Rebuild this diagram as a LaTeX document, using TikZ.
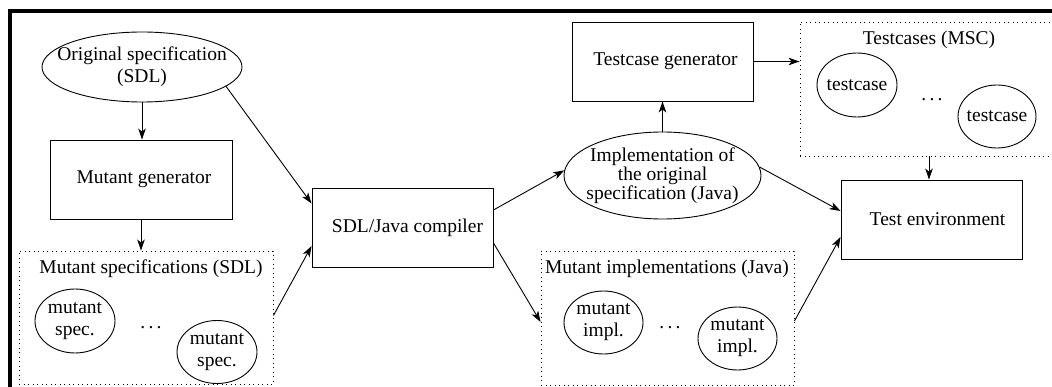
\documentclass[tikz,border=0pt]{standalone}
\usepackage{fontspec}
\setmainfont{Liberation Serif}
\usetikzlibrary{shapes.geometric,arrows.meta}
\tikzset{
  base/.style={font=\fontsize{19.5}{22}\selectfont},
  box/.style={base,draw,rectangle,line width=0.9pt,inner sep=0pt},
  ell/.style={base,draw,ellipse,line width=0.9pt,inner sep=0pt},
  lbl/.style={base,align=center,inner sep=0pt},
  group/.style={draw,rectangle,line width=0.9pt,dash pattern=on 0.9pt off 3.6pt,inner sep=0pt},
  arr/.style={-{Stealth[length=11pt,width=7.5pt,inset=3pt]},line width=0.9pt},
  frameline/.style={line width=3.2pt}
}
\begin{document}
\begin{tikzpicture}[x=1pt,y=-1pt]
\useasboundingbox (0,0) rectangle (1052,387);
% frame
\coordinate (fl) at (10,400);
\coordinate (fc) at (10,11);
\coordinate (fr) at (1070,11);
\draw[frameline] (fl) -- (fc) -- (fr);

% left column
\node[ell,minimum width=200pt,minimum height=70pt,
  label={[lbl]center:Original specification\\(SDL)}] (orig) at (142,67) {};
\node[box,minimum width=182pt,minimum height=79pt] (mgen) at (141,179.5) {\hspace*{6pt}Mutant generator};
\node[group,minimum width=254pt,minimum height=133pt] (mspecs) at (146,317.5) {};
\node[lbl] (mspecslabel) at (151,269) {Mutant specifications (SDL)};
\node[ell,minimum width=80pt,minimum height=64pt,
  label={[lbl]center:mutant\\spec.}] (ms1) at (75,321) {};
\node[ell,minimum width=80pt,minimum height=63pt,
  label={[lbl]center:mutant\\spec.}] (ms2) at (217,352) {};
\node[lbl] (msdots) at (151,328) {.\,.\,.};

% compiler
\node[box,minimum width=181pt,minimum height=79pt] (comp) at (402.5,227.5) {\hspace*{10pt}SDL/Java compiler};

% middle column
\node[box,minimum width=181pt,minimum height=79pt] (tgen) at (662.5,61.5) {\hspace*{6pt}Testcase generator};
\node[ell,minimum width=197pt,minimum height=87pt,
  label={[lbl,font=\fontsize{19.5}{13.5}\selectfont]center:Implementation of\\the original\\specification (Java)}] (impl) at (662.5,175.5) {};
\node[group,minimum width=253pt,minimum height=134pt] (mimpls) at (667.5,318) {};
\node[lbl] (mimplslabel) at (667,269) {Mutant implementations (Java)};
\node[ell,minimum width=79pt,minimum height=63pt,
  label={[lbl]center:mutant\\impl.}] (mi1) at (603.5,322.5) {};
\node[ell,minimum width=79pt,minimum height=63pt,
  label={[lbl]center:mutant\\impl.}] (mi2) at (737.5,338.5) {};
\node[lbl] (midots) at (670,328) {.\,.\,.};

% right column
\node[group,minimum width=258pt,minimum height=134pt] (tcs) at (929,89) {};
\node[lbl] (tcslabel) at (929,40) {Testcases (MSC)};
\node[ell,minimum width=80pt,minimum height=64pt,
  label={[lbl]center:testcase}] (tc1) at (857,85) {};
\node[ell,minimum width=78pt,minimum height=63pt,
  label={[lbl]center:testcase}] (tc2) at (997,116.5) {};
\node[lbl] (tcdots) at (932,100) {.\,.\,.};
\node[box,minimum width=181pt,minimum height=79pt] (tenv) at (931.5,219.5) {\hspace*{12pt}Test environment};

% connectors
\draw[arr] (orig.south) -- (orig.south |- mgen.north);
\draw[arr] (orig.-13) -- ([yshift=24pt]comp.west);
\draw[arr] (mgen.south) -- (mgen.south |- mspecs.north);
\draw[arr] ([yshift=2pt]mspecs.east) -- ([yshift=-18.5pt]comp.west);
\draw[arr] ([yshift=17.5pt]comp.east) -- (impl.177);
\draw[arr] ([yshift=-15.5pt]comp.east) -- ([yshift=-4pt]mimpls.west);
\draw[arr] (impl.north) -- (impl.north |- tgen.south);
\draw[arr] (tgen.east) -- (tgen.east -| tcs.west);
\draw[arr] (tcs.south) -- (tcs.south |- tenv.north);
\draw[arr] (impl.5) -- ([yshift=8.5pt]tenv.west);
\draw[arr] ([yshift=-3pt]mimpls.east) -- ([yshift=-17.5pt]tenv.west);
\end{tikzpicture}
\end{document}
